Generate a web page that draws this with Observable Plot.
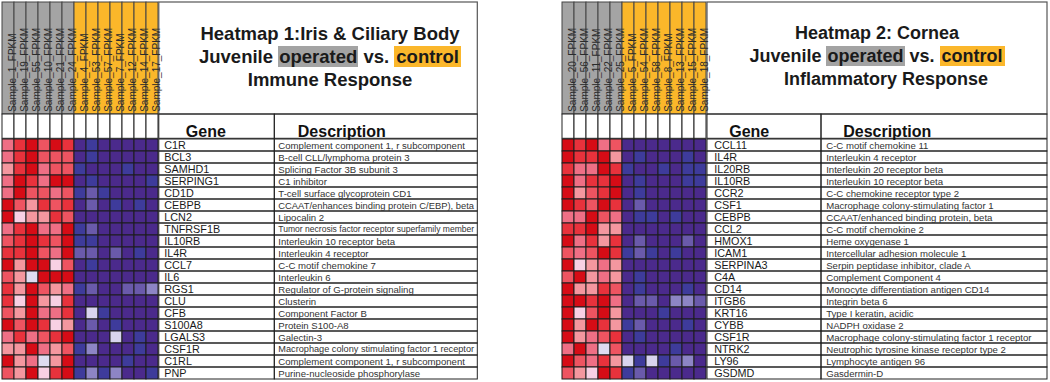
<!DOCTYPE html>
<html><head><meta charset="utf-8">
<script src="https://cdn.jsdelivr.net/npm/d3@7"></script>
<script src="https://cdn.jsdelivr.net/npm/@observablehq/plot@0.6"></script>
<style>
body{margin:0;background:#fff;}
#wrap{position:relative;width:1050px;height:382px;overflow:hidden;font-family:"Liberation Sans",Arial,sans-serif;background:#fff;}
.title{position:absolute;text-align:center;font-weight:bold;color:#1a1a1a;line-height:23px;white-space:nowrap;}
.op{background:#a3a3a3;padding:0 1px;}
.ct{background:#fbb72b;padding:0 2px;}
.l3{position:relative;}
</style></head><body><div id="wrap"></div>
<script>
// ---------- DATA ----------
const samples1 = ["Sample_1_FPKM","Sample_19_FPKM","Sample_55_FPKM","Sample_10_FPKM","Sample_21_FPKM","Sample_24_FPKM","Sample_4_FPKM","Sample_53_FPKM","Sample_57_FPKM","Sample_7_FPKM","Sample_12_FPKM","Sample_14_FPKM","Sample_17_FPKM"];
const groups1 = ["operated","operated","operated","operated","operated","operated","control","control","control","control","control","control","control"];
const genes1 = ["C1R","BCL3","SAMHD1","SERPING1","CD1D","CEBPB","LCN2","TNFRSF1B","IL10RB","IL4R","CCL7","IL6","RGS1","CLU","CFB","S100A8","LGALS3","CSF1R","C1RL","PNP"];
const descriptions1 = ["Complement component 1, r subcomponent","B-cell CLL/lymphoma protein 3","Splicing Factor 3B subunit 3","C1 inhibitor","T-cell surface glycoprotein CD1","CCAAT/enhances binding protein C/EBP), beta","Lipocalin 2","Tumor necrosis factor receptor superfamily member","Interleukin 10 receptor beta","Interleukin 4 receptor","C-C motif chemokine 7","Interleukin 6","Regulator of G-protein signaling","Clusterin","Component Factor B","Protein S100-A8","Galectin-3","Macrophage colony stimulating factor 1 receptor","Complement component 1, r subcomponent","Purine-nucleoside phosphorylase"];
const values1 = [
  [1.0,1.6,2.0,1.3,2.0,1.6,-2.0,-1.7,-2.0,-2.0,-2.0,-2.0,-2.0],
  [1.0,1.6,2.0,1.3,1.3,1.3,-2.0,-1.7,-2.0,-2.0,-2.0,-2.0,-2.0],
  [0.7,1.6,2.0,1.0,1.3,1.3,-1.7,-2.0,-2.0,-2.0,-1.7,-2.0,-2.0],
  [1.0,2.0,1.6,1.0,2.0,2.0,-2.0,-1.7,-2.0,-2.0,-2.0,-2.0,-1.7],
  [1.0,2.0,1.3,1.3,1.0,1.3,-1.7,-1.2,-1.7,-2.0,-2.0,-2.0,-2.0],
  [2.0,1.3,0.7,1.6,1.3,1.6,-2.0,-1.2,-2.0,-1.7,-2.0,-1.7,-2.0],
  [2.0,0.3,0.7,0.7,1.6,1.3,-2.0,-2.0,-2.0,-2.0,-2.0,-2.0,-2.0],
  [1.0,1.6,2.0,1.0,1.0,2.0,-1.7,-1.2,-2.0,-2.0,-2.0,-2.0,-2.0],
  [1.3,1.6,2.0,1.6,1.3,2.0,-1.7,-1.7,-2.0,-2.0,-2.0,-2.0,-2.0],
  [1.6,1.6,2.0,1.3,1.0,2.0,-1.2,-1.2,-2.0,-1.2,-2.0,-1.7,-2.0],
  [2.0,0.7,2.0,2.0,0.3,1.3,-2.0,-1.7,-2.0,-2.0,-2.0,-2.0,-2.0],
  [1.3,0.7,0.0,2.0,2.0,2.0,-2.0,-2.0,-2.0,-2.0,-2.0,-2.0,-2.0],
  [1.6,0.7,2.0,1.3,0.7,1.0,-1.7,-1.2,-2.0,-2.0,-1.2,-1.2,-0.8],
  [1.6,0.3,2.0,0.7,0.3,1.6,-2.0,-2.0,-2.0,-2.0,-2.0,-2.0,-2.0],
  [1.3,0.7,2.0,1.0,1.0,1.6,-2.0,-0.2,-1.7,-2.0,-2.0,-2.0,-2.0],
  [2.0,1.3,2.0,1.6,0.3,0.7,-2.0,-1.2,-2.0,-1.7,-2.0,-2.0,-2.0],
  [1.0,1.6,1.0,1.3,1.6,2.0,-2.0,-2.0,-2.0,-0.2,-2.0,-1.7,-2.0],
  [0.7,0.7,2.0,1.0,0.7,1.3,-1.7,-0.8,-2.0,-2.0,-2.0,-1.7,-2.0],
  [2.0,0.7,1.0,0.0,0.7,2.0,-2.0,-2.0,-2.0,-2.0,-1.7,-2.0,-2.0],
  [1.3,0.7,2.0,0.3,1.6,2.0,-1.7,-0.8,-1.7,-0.8,-2.0,-2.0,-1.7]
];

const samples2 = ["Sample_20_FPKM","Sample_56_FPKM","Sample_11_FPKM","Sample_22_FPKM","Sample_25_FPKM","Sample_5_FPKM","Sample_54_FPKM","Sample_58_FPKM","Sample_8_FPKM","Sample_13_FPKM","Sample_15_FPKM","Sample_18_FPKM"];
const groups2 = ["operated","operated","operated","operated","operated","control","control","control","control","control","control","control"];
const genes2 = ["CCL11","IL4R","IL20RB","IL10RB","CCR2","CSF1","CEBPB","CCL2","HMOX1","ICAM1","SERPINA3","C4A","CD14","ITGB6","KRT16","CYBB","CSF1R","NTRK2","LY96","GSDMD"];
const descriptions2 = ["C-C motif chemokine 11","Interleukin 4 receptor","Interleukin 20 receptor beta","Interleukin 10 receptor beta","C-C chemokine receptor type 2","Macrophage colony-stimulating factor 1","CCAAT/enhanced binding protein, beta","C-C motif chemokine 2","Heme oxygenase 1","Intercellular adhesion molecule 1","Serpin peptidase inhibitor, clade A","Complement Component 4","Monocyte differentiation antigen CD14","Integrin beta 6","Type I keratin, acidic","NADPH oxidase 2","Macrophage colony-stimulating factor 1 receptor","Neutrophic tyrosine kinase receptor type 2","Lymphocyte antigen 96","Gasdermin-D"];
const values2 = [
  [2.0,1.6,2.0,1.0,1.3,-2.0,-2.0,-2.0,-2.0,-2.0,-2.0,-2.0],
  [2.0,1.6,1.6,2.0,0.7,-2.0,-1.7,-2.0,-2.0,-2.0,-1.7,-2.0],
  [1.6,1.0,1.0,2.0,1.6,-1.7,-2.0,-2.0,-1.7,-2.0,-1.7,-1.7],
  [2.0,1.0,1.6,1.6,2.0,-2.0,-1.7,-2.0,-2.0,-2.0,-1.7,-1.7],
  [2.0,0.7,1.3,1.6,2.0,-2.0,-1.7,-2.0,-2.0,-2.0,-2.0,-2.0],
  [2.0,1.6,1.3,2.0,1.6,-2.0,-1.2,-2.0,-2.0,-2.0,-2.0,-2.0],
  [1.0,1.0,2.0,1.3,1.0,-2.0,-1.7,-1.7,-2.0,-1.7,-2.0,-2.0],
  [1.6,1.6,2.0,0.7,0.7,-2.0,-2.0,-2.0,-2.0,-2.0,-2.0,-2.0],
  [2.0,1.0,1.6,0.7,1.6,-2.0,-1.2,-2.0,-2.0,-2.0,-1.2,-2.0],
  [1.3,1.0,1.3,2.0,1.6,-1.7,-1.2,-1.7,-2.0,-1.7,-2.0,-2.0],
  [2.0,0.3,0.7,1.0,0.7,-2.0,-2.0,-2.0,-2.0,-2.0,-2.0,-2.0],
  [1.3,2.0,0.7,1.0,0.7,-2.0,-1.7,-2.0,-2.0,-2.0,-2.0,-2.0],
  [2.0,0.7,0.7,1.6,1.3,-2.0,-1.7,-2.0,-2.0,-2.0,-1.7,-2.0],
  [2.0,2.0,1.6,2.0,1.0,-2.0,-1.2,-1.2,-2.0,-0.8,-0.8,-1.2],
  [2.0,0.3,1.3,2.0,0.7,-2.0,-2.0,-2.0,-1.7,-2.0,-2.0,-2.0],
  [2.0,0.7,2.0,1.6,0.7,-1.7,-1.2,-2.0,-2.0,-2.0,-1.7,-2.0],
  [2.0,0.7,1.0,1.3,1.6,-2.0,-1.7,-2.0,-2.0,-2.0,-2.0,-2.0],
  [1.0,2.0,1.0,0.0,1.3,-2.0,-2.0,-2.0,-2.0,-1.7,-2.0,-2.0],
  [2.0,1.3,1.0,1.6,0.7,-0.2,-1.7,-0.2,-1.7,-1.2,-0.8,-2.0],
  [1.3,0.7,0.3,2.0,1.6,-1.7,-1.2,-2.0,-2.0,-2.0,-2.0,-2.0]
];

const colorDomain = [-2.0,-1.7,-1.2,-0.8,-0.2,0,0.3,0.7,1.0,1.3,1.6,2.0];
const colorRange = ["#4b2a8c","#3e3b9b","#6a5aab","#8d85c5","#d8d4ee","#dedcf1","#f8d0e4","#f4979f","#ef6f85","#ee5461","#e8323c","#d60c16"];
const groupColors = {operated: "#a4a4a4", control: "#fbb72a"};

// ---------- DRAW ----------
const FONT = '"Liberation Sans", Arial, sans-serif';
const measureCtx = document.createElement("canvas").getContext("2d");
function fitSize(text, base, maxW) {
  measureCtx.font = `${base}px ${FONT}`;
  const w = measureCtx.measureText(text).width;
  return w > maxW ? base * maxW / w : base;
}

function panel(cfg) {
  const {samples, groups, genes, descriptions, values} = cfg;
  const cells = genes.flatMap((g, i) => samples.map((s, j) => ({gene: g, sample: s, value: values[i][j]})));
  const groupOf = new Map(samples.map((s, j) => [s, groups[j]]));
  const descMax = cfg.tableW - cfg.descDx - 3;
  const rows = genes.map((g, i) => ({gene: g, description: descriptions[i], size: fitSize(descriptions[i], cfg.descSize, descMax)}));
  const blankH = 24.3, top = 2;

  const structure = (index, scales, vals, dims) => {
    const x = scales.x, y = scales.y;
    const bw = x.bandwidth(), bh = y.bandwidth();
    const g = d3.create("svg:g");
    const hdrBottom = dims.marginTop - blankH;
    for (const s of samples) {
      g.append("rect").attr("x", x(s)).attr("y", top).attr("width", bw).attr("height", hdrBottom - top)
        .attr("fill", groupColors[groupOf.get(s)]).attr("stroke", "#444").attr("stroke-width", 1);
      g.append("rect").attr("x", x(s)).attr("y", hdrBottom).attr("width", bw).attr("height", blankH)
        .attr("fill", "#fff").attr("stroke", "#222").attr("stroke-width", 1);
    }
    const tl = dims.width - dims.marginRight + cfg.tableGap;
    const gr = tl + cfg.geneW, tr = tl + cfg.tableW;
    g.append("rect").attr("x", tl).attr("y", top).attr("width", cfg.tableW).attr("height", hdrBottom - top)
      .attr("fill", "#fff").attr("stroke", "#555").attr("stroke-width", 1.2);
    g.append("rect").attr("x", tl).attr("y", hdrBottom).attr("width", cfg.geneW).attr("height", blankH)
      .attr("fill", "none").attr("stroke", "#222");
    g.append("rect").attr("x", gr).attr("y", hdrBottom).attr("width", tr - gr).attr("height", blankH)
      .attr("fill", "none").attr("stroke", "#222");
    for (const r of genes) {
      g.append("rect").attr("x", tl).attr("y", y(r)).attr("width", cfg.geneW).attr("height", bh)
        .attr("fill", "none").attr("stroke", "#222");
      g.append("rect").attr("x", gr).attr("y", y(r)).attr("width", tr - gr).attr("height", bh)
        .attr("fill", "none").attr("stroke", "#222");
    }
    return g.node();
  };

  const svg = Plot.plot({
    width: cfg.width, height: 382,
    marginLeft: cfg.ml, marginRight: cfg.mr, marginTop: 138.3, marginBottom: 2.7,
    x: {type: "band", domain: samples, padding: 0, axis: null},
    y: {type: "band", domain: genes, padding: 0, axis: null},
    color: {type: "linear", domain: colorDomain, range: colorRange, clamp: true},
    style: {fontFamily: FONT, background: "#fff", overflow: "visible"},
    marks: [
      structure,
      Plot.cell(cells, {x: "sample", y: "gene", fill: "value", stroke: "#1c1c1c", strokeWidth: 1}),
      Plot.text(samples, {x: d => d, text: d => d, frameAnchor: "top", dy: -27, rotate: -90, textAnchor: "start", fontSize: 10, fill: "#2b2b2b"}),
      Plot.text(["Gene"], {text: d => d, frameAnchor: "top-right", dx: cfg.geneHdrDx, dy: -13.5, textAnchor: "start", fontSize: 16, fontWeight: "bold", fill: "#111"}),
      Plot.text(["Description"], {text: d => d, frameAnchor: "top-right", dx: cfg.descHdrDx, dy: -13.5, textAnchor: "start", fontSize: 16, fontWeight: "bold", fill: "#111"}),
      Plot.text(rows, {y: "gene", text: "gene", frameAnchor: "right", dx: cfg.geneDx, textAnchor: "start", fontSize: 10.8, fill: "#1a1a1a"}),
      Plot.text(rows, {y: "gene", text: "description", frameAnchor: "right", dx: cfg.descDx, textAnchor: "start", fontSize: "size", fill: "#333"})
    ]
  });
  svg.style.position = "absolute";
  svg.style.left = cfg.left + "px";
  svg.style.top = "0px";
  return svg;
}

const wrap = document.getElementById("wrap");
wrap.appendChild(panel({samples: samples1, groups: groups1, genes: genes1, descriptions: descriptions1, values: values1,
  left: 0, width: 480, ml: 1.7, mr: 321.7, tableGap: 0.5, geneW: 115.5, tableW: 318.5,
  geneDx: 5.5, descDx: 119.5, geneHdrDx: 27, descHdrDx: 139, descSize: 9.6}));
wrap.appendChild(panel({samples: samples2, groups: groups2, genes: genes2, descriptions: descriptions2, values: values2,
  left: 560, width: 490, ml: 1.7, mr: 343.3, tableGap: 0.3, geneW: 114, tableW: 340,
  geneDx: 7, descDx: 119, geneHdrDx: 22, descHdrDx: 136, descSize: 9.6}));

function title(left, width, size, l1, l3, shift3) {
  const d = document.createElement("div");
  d.className = "title";
  d.style.left = left + "px"; d.style.top = "21.5px"; d.style.width = width + "px"; d.style.fontSize = size + "px";
  d.innerHTML = `${l1}<br>Juvenile <span class="op">operated</span> vs. <span class="ct">control</span><br><span class="l3" style="left:${shift3}px">${l3}</span>`;
  wrap.appendChild(d);
}
title(170, 320, 18.5, "Heatmap 1:Iris &amp; Ciliary Body", "Immune Response", 0);
title(707, 340, 18, "Heatmap 2: Cornea", "Inflammatory Response", 9);
</script></body></html>
